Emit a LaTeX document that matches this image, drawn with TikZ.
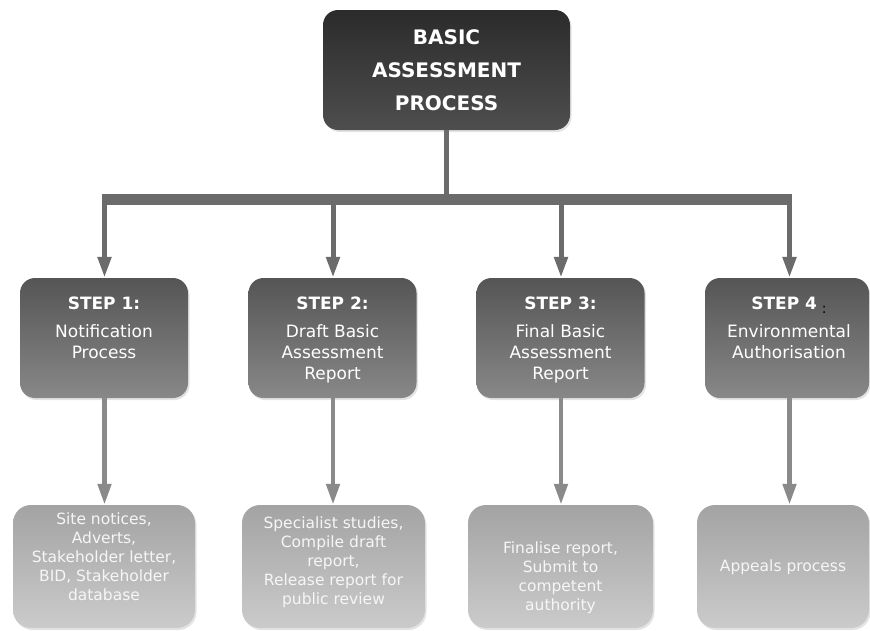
\documentclass[tikz,border=0pt]{standalone}
\usepackage{fontspec}
\setmainfont{DejaVu Sans}
\usetikzlibrary{arrows.meta,shadows}
\definecolor{topA}{HTML}{2B2B2B}
\definecolor{topB}{HTML}{4E4E4E}
\definecolor{stepA}{HTML}{555555}
\definecolor{stepB}{HTML}{888888}
\definecolor{botA}{HTML}{A3A3A3}
\definecolor{botB}{HTML}{CBCBCB}
\definecolor{lineA}{HTML}{6B6B6B}
\definecolor{lineB}{HTML}{8A8A8A}
\definecolor{btext}{HTML}{F6F6F6}
\tikzset{
  x=1pt, y=-1pt,
  boxbase/.style={rectangle, rounded corners=15pt, inner sep=0pt,
     drop shadow={shadow xshift=1.5pt, shadow yshift=-2pt, opacity=0.22}},
  topbox/.style={boxbase, top color=topA, bottom color=topB,
     minimum width=247pt, minimum height=120pt, text=white, align=center,
     font=\bfseries\fontsize{20}{33}\selectfont},
  stepbox/.style={boxbase, top color=stepA, bottom color=stepB,
     minimum width=168pt, minimum height=120pt},
  steptext/.style={anchor=north, inner sep=0pt, text=white, align=center,
     font=\fontsize{17}{21}\selectfont},
  botbox/.style={boxbase, rounded corners=18pt, top color=botA, bottom color=botB,
     minimum height=123pt},
  bottext/.style={inner sep=0pt, text=btext, align=center,
     font=\fontsize{15.5}{19}\selectfont},
  conn/.style={draw=lineA, line width=5pt},
  connB/.style={draw=lineB, line width=4.7pt},
  tip/.style={-{Triangle[width=13pt,length=21pt]}},
}
\begin{document}
\begin{tikzpicture}
\useasboundingbox (0,0) rectangle (870,630);

% top box
\node[topbox] (top) at (446.5,70) {BASIC\\ASSESSMENT\\PROCESS};

% junction coordinates
\coordinate (jl) at (102,199.5);
\coordinate (jr) at (792,199.5);
\coordinate (jt) at (446.5,199.5);
\coordinate (j1) at (104.5,199.5);
\coordinate (j2) at (333,199.5);
\coordinate (j3) at (561,199.5);
\coordinate (j4) at (789.5,199.5);

% step boxes
\node[stepbox] (s1) at (104,338) {};
\node[stepbox] (s2) at (332.5,338) {};
\node[stepbox] (s3) at (560.5,338) {};
\node[stepbox, minimum width=164pt] (s4) at (787,338) {};

\node[steptext] (t1) at (104,296.5) {\textbf{STEP 1:}\\[7pt]Notification\\Process};
\node[steptext] (t2) at (332.5,296.5) {\textbf{STEP 2:}\\[7pt]Draft Basic\\Assessment\\Report};
\node[steptext] (t3) at (560.5,296.5) {\textbf{STEP 3:}\\[7pt]Final Basic\\Assessment\\Report};
\node[steptext] (t4) at (789,296.5) {\textbf{STEP 4}\hspace{5pt}\raisebox{-4pt}{\textcolor{black}{\fontsize{14}{14}\selectfont :}}\\[7pt]Environmental\\Authorisation};

% bottom boxes
\node[botbox, minimum width=182pt] (b1) at (104,566.5) {};
\node[botbox, minimum width=183pt] (b2) at (333.5,566.5) {};
\node[botbox, minimum width=185pt] (b3) at (560.5,566.5) {};
\node[botbox, minimum width=172pt] (b4) at (783,566.5) {};

\node[bottext] (u1) at (104,557) {Site notices,\\Adverts,\\Stakeholder letter,\\BID, Stakeholder\\database};
\node[bottext] (u2) at (333.5,562) {Specialist studies,\\Compile draft\\report,\\Release report for\\public review};
\node[bottext] (u3) at (560.5,578) {Finalise report,\\Submit to\\competent\\authority};
\node[bottext] (u4) at (783,567) {Appeals process};

% connectors
\draw[conn] (top.south) -- (jt);
\draw[conn, line width=11pt] (jl) -- (jr);
\draw[conn, tip] (j1) -- (j1 |- s1.north);
\draw[conn, tip] (j2) -- (j2 |- s2.north);
\draw[conn, tip] (j3) -- (j3 |- s3.north);
\draw[conn, tip] (j4) -- (j4 |- s4.north);

\draw[connB, tip] (j1 |- s1.south) -- (j1 |- b1.north);
\draw[connB, tip] (j2 |- s2.south) -- (j2 |- b2.north);
\draw[connB, tip] (j3 |- s3.south) -- (j3 |- b3.north);
\draw[connB, tip] (j4 |- s4.south) -- (j4 |- b4.north);
\end{tikzpicture}
\end{document}
